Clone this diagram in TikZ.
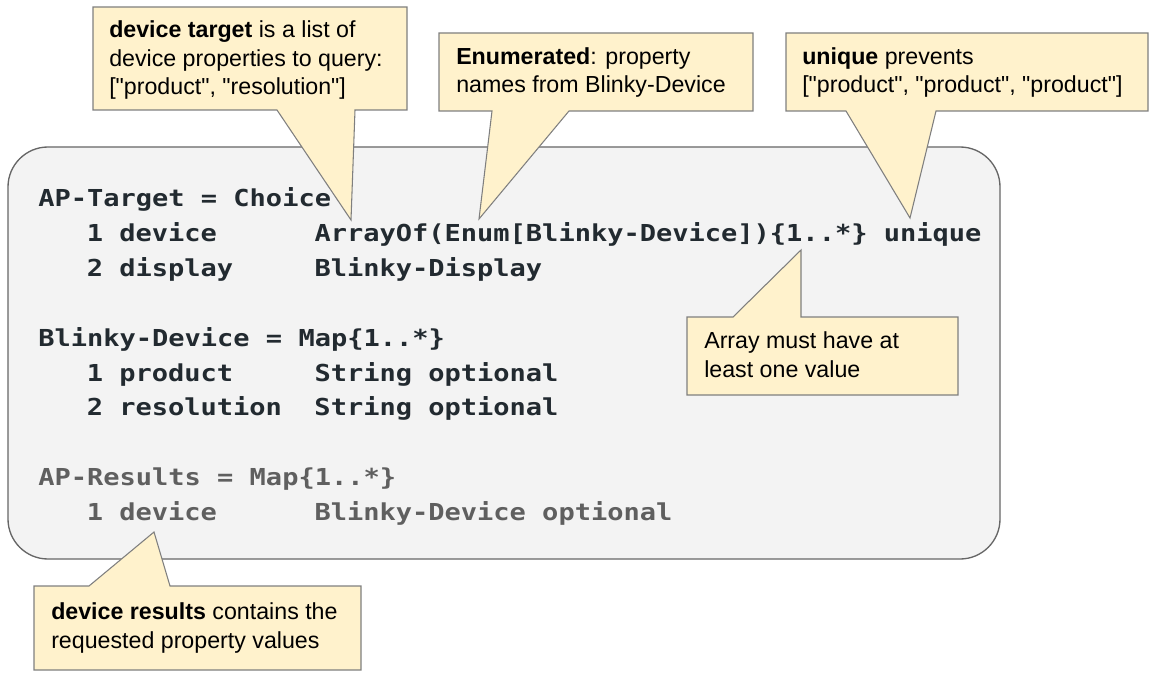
\documentclass[tikz,border=0pt]{standalone}
\usepackage{fontspec}
\setmainfont{Liberation Sans}
\newfontfamily\codefont{DejaVu Sans Mono}[FakeStretch=1.158]
\definecolor{notefill}{HTML}{FFF2CC}
\definecolor{noteline}{HTML}{7F7F7F}
\definecolor{panelfill}{HTML}{F3F3F3}
\definecolor{panelline}{HTML}{666666}
\definecolor{codeink}{HTML}{222A30}
\definecolor{codedim}{HTML}{5F5F5F}
\tikzset{
  note/.style={fill=notefill,draw=noteline,line width=0.8pt},
  notetext/.style={anchor=base west,inner sep=0pt,align=left,
    font=\fontsize{17.4}{21.4}\selectfont},
  codeline/.style={anchor=base west,inner sep=0pt,text=codeink,
    font=\codefont\bfseries\fontsize{17.5}{21}\selectfont},
  codegray/.style={codeline,text=codedim}
}
\newcommand\pad[1]{\hphantom{#1}}
\newcommand\qt[1]{\textquotedbl#1\textquotedbl}
\begin{document}
\begin{tikzpicture}[x=0.75pt,y=-0.75pt]
    \useasboundingbox (0,0) rectangle (1155,677);
    % code panel
    \draw[panelline,fill=panelfill,line width=1pt,rounded corners=30pt] (8,147) rectangle (1000,559);
    \node[codeline] (target) at (38,207) {AP-Target = Choice};
    \node[codeline] (tdev) at (86.5,241.8) {1 device\pad{xxxxxx}ArrayOf(Enum[Blinky-Device])\{1..*\} unique};
    \node[codeline] (tdisp) at (86.5,276.6) {2 display\pad{xxxxx}Blinky-Display};
    \node[codeline] (blinky) at (38,346.2) {Blinky-Device = Map\{1..*\}};
    \node[codeline] (bprod) at (86.5,381) {1 product\pad{xxxxx}String optional};
    \node[codeline] (bres) at (86.5,415.8) {2 resolution\pad{xx}String optional};
    \node[codegray] (results) at (38,485.4) {AP-Results = Map\{1..*\}};
    \node[codegray] (rdev) at (86.5,520.2) {1 device\pad{xxxxxx}Blinky-Device optional};
    % pointer tips
    \coordinate (p1) at (351,220);
    \coordinate (p2) at (479,219);
    \coordinate (p3) at (910,218);
    \coordinate (p4) at (801,250);
    \coordinate (p5) at (154,532);
    % callouts
    \draw[note] (93,7) -- (407,7) -- (407,110) -- (355,110) -- (p1) -- (277,110) -- (93,110) -- cycle;
    \draw[note] (439,33) -- (753,33) -- (753,111) -- (569,111) -- (p2) -- (492,111) -- (439,111) -- cycle;
    \draw[note] (786,33) -- (1148,33) -- (1148,111) -- (936,111) -- (p3) -- (846,111) -- (786,111) -- cycle;
    \draw[note] (687,317) -- (733,317) -- (p4) -- (801,317) -- (958,317) -- (958,395) -- (687,395) -- cycle;
    \draw[note] (34,586) -- (89,586) -- (p5) -- (170,586) -- (361,586) -- (361,670) -- (34,670) -- cycle;
    % texts, placed at the baseline of their last line
    \node[notetext] (nlist) at (109,95) {\textbf{device target} is a list of\\device properties to query:\\{}[\qt{product}, \qt{resolution}]};
    \node[notetext] (nenum) at (456,93) {\textbf{Enumerated}: property\\names from Blinky-Device};
    \node[notetext] (nuniq) at (802,93) {\textbf{unique} prevents\\{}[\qt{product}, \qt{product}, \qt{product}]};
    \node[notetext] (nmin) at (704,377) {Array must have at\\least one value};
    \node[notetext] (nres) at (51,648) {\textbf{device results} contains the\\requested property values};
\end{tikzpicture}
\end{document}
